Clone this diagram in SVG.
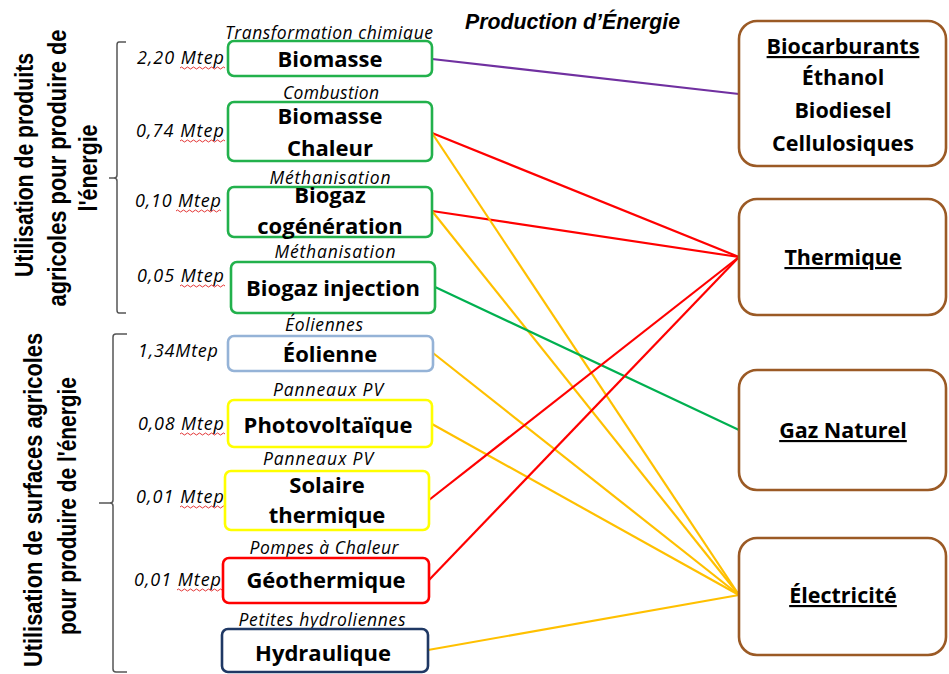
<svg xmlns="http://www.w3.org/2000/svg" width="949" height="674" viewBox="0 0 949 674">
<style>
.box{fill:#fff;stroke-width:2.6}
.g{stroke:#22b14c}
.rb{fill:#fff;stroke:#9b5a25;stroke-width:2.6}
.bt{font-family:"Open Sans",sans-serif;font-weight:700;font-size:22px;fill:#000;text-anchor:middle}
.rt{font-family:"Open Sans",sans-serif;font-weight:700;font-size:21.5px;fill:#000;text-anchor:middle}
.u{text-decoration:underline}
.lab{font-family:"Open Sans",sans-serif;font-style:italic;font-size:17.5px;fill:#000;text-anchor:middle}
.mt{font-family:"Open Sans",sans-serif;font-style:italic;font-size:18px;fill:#000;text-anchor:end}
.side{font-family:"Liberation Sans",Arial,sans-serif;font-weight:700;font-size:26px;fill:#000;text-anchor:middle}
.sq{fill:none;stroke:#e02020;stroke-width:0.9}
.br{fill:none;stroke:#555;stroke-width:1.5}
.c{fill:none;stroke-width:2.2}
</style>
<rect width="949" height="674" fill="#fff"/>
<text x="465" y="29" font-family="'Liberation Sans',sans-serif" font-weight="700" font-style="italic" font-size="22.5" textLength="215" lengthAdjust="spacingAndGlyphs">Production d’Énergie</text>
<g id="side1">
<text class="side" transform="translate(33,165) rotate(-90)" textLength="224" lengthAdjust="spacingAndGlyphs">Utilisation de produits</text>
<text class="side" transform="translate(66,168) rotate(-90)" textLength="277" lengthAdjust="spacingAndGlyphs">agricoles pour produire de</text>
<text class="side" transform="translate(97,168) rotate(-90)" textLength="87" lengthAdjust="spacingAndGlyphs">l'énergie</text>
<path class="br" d="M126,42 H119 Q117,42 117,45 V175 Q117,178 114,178 H109 M114,178 Q117,178 117,181 V310 Q117,313 119,313 H126"/>
</g>
<g id="side2">
<text class="side" transform="translate(42,500) rotate(-90)" textLength="334" lengthAdjust="spacingAndGlyphs">Utilisation de surfaces agricoles</text>
<text class="side" transform="translate(76,506) rotate(-90)" textLength="258" lengthAdjust="spacingAndGlyphs">pour produire de l'énergie</text>
<path class="br" d="M127,334 H116 Q113,334 113,337 V500 Q113,503 110,503 H99 M110,503 Q113,503 113,506 V669 Q113,672 116,672 H127"/>
</g>
<g id="connectors">
<line class="c" stroke="#7030a0" x1="432" y1="59" x2="739" y2="94"/>
<line class="c" stroke="#ff0000" x1="432" y1="133" x2="739" y2="257"/>
<line class="c" stroke="#ff0000" x1="432" y1="211" x2="739" y2="257"/>
<line class="c" stroke="#ffc000" x1="432" y1="133" x2="739" y2="595"/>
<line class="c" stroke="#ffc000" x1="432" y1="211" x2="739" y2="595"/>
<line class="c" stroke="#00b050" x1="435" y1="287" x2="739" y2="430"/>
<line class="c" stroke="#ffc000" x1="433" y1="353" x2="739" y2="595"/>
<line class="c" stroke="#ffc000" x1="432" y1="424" x2="739" y2="595"/>
<line class="c" stroke="#ff0000" x1="429" y1="500" x2="739" y2="257"/>
<line class="c" stroke="#ff0000" x1="429" y1="580" x2="739" y2="257"/>
<line class="c" stroke="#ffc000" x1="428" y1="650" x2="739" y2="595"/>
</g>
<g id="n-biomasse">
<text class="lab" x="329" y="39" textLength="208">Transformation chimique</text>
<text class="mt" x="224" y="64" textLength="87">2,20 Mtep</text>
<path class="sq" d="M180,68 q1.5,-2 3,0 t3,0 t3,0 t3,0 t3,0 t3,0 t3,0 t3,0 t3,0 t3,0 t3,0 t3,0 t3,0 t3,0 t3,0"/>
<rect class="box g" x="228" y="41" width="204" height="35" rx="6"/>
<text class="bt" x="330" y="67">Biomasse</text>
</g>
<g id="n-biomasse-chaleur">
<text class="lab" x="331" y="99" textLength="96">Combustion</text>
<text class="mt" x="224" y="137" textLength="88">0,74 Mtep</text>
<path class="sq" d="M180,141 q1.5,-2 3,0 t3,0 t3,0 t3,0 t3,0 t3,0 t3,0 t3,0 t3,0 t3,0 t3,0 t3,0 t3,0 t3,0 t3,0"/>
<rect class="box g" x="228" y="102" width="204" height="59" rx="6"/>
<text class="bt" x="330" y="124">Biomasse</text>
<text class="bt" x="330" y="156">Chaleur</text>
</g>
<g id="n-biogaz-cogeneration">
<text class="lab" x="330" y="184" textLength="121">Méthanisation</text>
<text class="mt" x="221" y="207" textLength="86">0,10 Mtep</text>
<path class="sq" d="M176,211 q1.5,-2 3,0 t3,0 t3,0 t3,0 t3,0 t3,0 t3,0 t3,0 t3,0 t3,0 t3,0 t3,0 t3,0 t3,0 t3,0"/>
<rect class="box g" x="228" y="187" width="204" height="50" rx="6"/>
<text class="bt" x="330" y="203">Biogaz</text>
<text class="bt" x="330" y="234">cogénération</text>
</g>
<g id="n-biogaz-injection">
<text class="lab" x="335" y="258" textLength="121">Méthanisation</text>
<text class="mt" x="224" y="282" textLength="87">0,05 Mtep</text>
<path class="sq" d="M180,286 q1.5,-2 3,0 t3,0 t3,0 t3,0 t3,0 t3,0 t3,0 t3,0 t3,0 t3,0 t3,0 t3,0 t3,0 t3,0 t3,0"/>
<rect class="box g" x="231" y="262" width="204" height="51" rx="6"/>
<text class="bt" x="333" y="296">Biogaz injection</text>
</g>
<g id="n-eolienne">
<text class="lab" x="324" y="331" textLength="78">Éoliennes</text>
<text class="mt" x="218" y="357" textLength="80">1,34Mtep</text>
<rect class="box" stroke="#95b3d7" x="228" y="336" width="205" height="35" rx="6"/>
<text class="bt" x="330" y="362">Éolienne</text>
</g>
<g id="n-photovoltaique">
<text class="lab" x="328" y="396" textLength="110">Panneaux PV</text>
<text class="mt" x="224" y="430" textLength="86">0,08 Mtep</text>
<path class="sq" d="M180,434 q1.5,-2 3,0 t3,0 t3,0 t3,0 t3,0 t3,0 t3,0 t3,0 t3,0 t3,0 t3,0 t3,0 t3,0 t3,0 t3,0"/>
<rect class="box" stroke="#ffff00" x="228" y="400" width="204" height="47" rx="6"/>
<text class="bt" x="328" y="433">Photovoltaïque</text>
</g>
<g id="n-solaire-thermique">
<text class="lab" x="318" y="465" textLength="110">Panneaux PV</text>
<text class="mt" x="224" y="503" textLength="88">0,01 Mtep</text>
<path class="sq" d="M180,507 q1.5,-2 3,0 t3,0 t3,0 t3,0 t3,0 t3,0 t3,0 t3,0 t3,0 t3,0 t3,0 t3,0 t3,0 t3,0 t3,0"/>
<rect class="box" stroke="#ffff00" x="225" y="471" width="204" height="59" rx="6"/>
<text class="bt" x="327" y="493">Solaire</text>
<text class="bt" x="327" y="523">thermique</text>
</g>
<g id="n-geothermique">
<text class="lab" x="324" y="554" textLength="149">Pompes à Chaleur</text>
<text class="mt" x="221" y="586" textLength="87">0,01 Mtep</text>
<path class="sq" d="M177,590 q1.5,-2 3,0 t3,0 t3,0 t3,0 t3,0 t3,0 t3,0 t3,0 t3,0 t3,0 t3,0 t3,0 t3,0 t3,0 t3,0"/>
<rect class="box" stroke="#ff0000" x="223" y="558" width="206" height="45" rx="6"/>
<text class="bt" x="326" y="588">Géothermique</text>
</g>
<g id="n-hydraulique">
<text class="lab" x="322" y="626" textLength="167">Petites hydroliennes</text>
<rect class="box" stroke="#1f3864" x="222" y="629" width="206" height="43" rx="6"/>
<text class="bt" x="323" y="661">Hydraulique</text>
</g>
<g id="n-biocarburants">
<rect class="rb" x="739" y="21" width="207" height="145" rx="18"/>
<text class="rt u" x="843" y="54">Biocarburants</text>
<text class="rt" x="843" y="85">Éthanol</text>
<text class="rt" x="843" y="118">Biodiesel</text>
<text class="rt" x="843" y="151">Cellulosiques</text>
</g>
<g id="n-thermique">
<rect class="rb" x="739" y="199" width="207" height="116" rx="18"/>
<text class="rt u" x="843" y="265">Thermique</text>
</g>
<g id="n-gaz-naturel">
<rect class="rb" x="739" y="370" width="207" height="120" rx="18"/>
<text class="rt u" x="843" y="438">Gaz Naturel</text>
</g>
<g id="n-electricite">
<rect class="rb" x="739" y="538" width="207" height="117" rx="18"/>
<text class="rt u" x="843" y="603">Électricité</text>
</g>
</svg>
